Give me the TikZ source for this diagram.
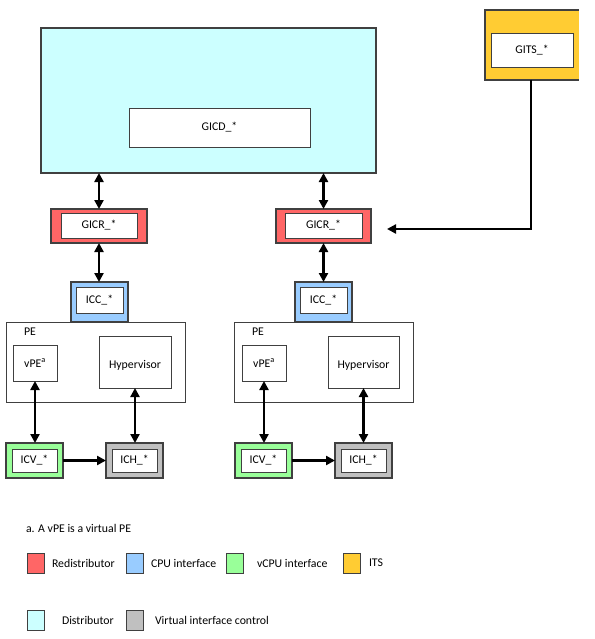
\documentclass[tikz,border=0pt]{standalone}
\usepackage{fontspec}
\setmainfont{Carlito}
\usetikzlibrary{arrows.meta,calc}
\definecolor{cred}{HTML}{FF6666}
\definecolor{cblue}{HTML}{99CCFF}
\definecolor{cgreen}{HTML}{99FF99}
\definecolor{cyel}{HTML}{FFCC33}
\definecolor{ccyan}{HTML}{CCFFFF}
\definecolor{cgray}{HTML}{C0C0C0}
\definecolor{edge}{HTML}{404040}
\tikzset{
  every node/.style={font=\fontsize{11.8}{14}\selectfont, inner sep=0pt, outer sep=0pt},
  outerbox/.style={draw=edge, line width=1.2pt, anchor=north west},
  innerbox/.style={draw=edge, line width=0.9pt, fill=white, anchor=north west},
  plainbox/.style={draw=edge, line width=0.8pt, fill=white, anchor=north west},
  legsq/.style={draw=edge, line width=1pt, anchor=north west, minimum width=17pt, minimum height=20pt},
  dbl/.style={{Triangle[length=9pt,width=9pt]}-{Triangle[length=9pt,width=9pt]}, line width=2.6pt},
  arr/.style={-{Triangle[length=9pt,width=9pt]}, line width=2.6pt},
  lbl/.style={anchor=west},
}
\begin{document}
\begin{tikzpicture}[x=1pt,y=-1pt]
\useasboundingbox (0,0) rectangle (594,639);
% Distributor
\node[outerbox, fill=ccyan, minimum width=335pt, minimum height=145pt] (dist) at (41,28) {};
\node[innerbox, minimum width=181pt, minimum height=39pt] (gicd) at (129,108) {};
\node at (gicd.center) {GICD\_*};
% ITS (right edge cut off, as in the reference)
\node[anchor=north west, fill=cyel, minimum width=94pt, minimum height=70pt] (its) at (485,10) {};
\draw[draw=edge, line width=1.2pt] (its.north east) -- (its.north west) -- (its.south west) -- (its.south east);
\node[innerbox, minimum width=82pt, minimum height=34pt] (gits) at (491,33) {};
\node at (gits.center) {GITS\_*};
% GICR
\node[outerbox, fill=cred, minimum width=96pt, minimum height=34pt] (gicrLo) at (51,209) {};
\node[innerbox, minimum width=76pt, minimum height=25pt] (gicrL) at (61,213) {};
\node at (gicrL.center) {GICR\_*};
\node[outerbox, fill=cred, minimum width=95pt, minimum height=34pt] (gicrRo) at (276,209) {};
\node[innerbox, minimum width=77pt, minimum height=25pt] (gicrR) at (285,213) {};
\node at (gicrR.center) {GICR\_*};
% ICC
\node[outerbox, fill=cblue, minimum width=57pt, minimum height=40pt] (iccLo) at (71,282) {};
\node[innerbox, minimum width=47pt, minimum height=26pt] (iccL) at (76,287) {};
\node at (iccL.center) {ICC\_*};
\node[outerbox, fill=cblue, minimum width=57pt, minimum height=40pt] (iccRo) at (295,282) {};
\node[innerbox, minimum width=47pt, minimum height=26pt] (iccR) at (300,287) {};
\node at (iccR.center) {ICC\_*};
% PE left
\node[plainbox, minimum width=179pt, minimum height=80pt] (peL) at (6,322) {};
\node[anchor=west] (peLl) at (24,332) {PE};
\node[plainbox, minimum width=44pt, minimum height=36pt] (vpeL) at (13,345) {};
\node at (vpeL.center) {vPE\textsuperscript{a}};
\node[plainbox, minimum width=72pt, minimum height=52pt] (hypL) at (99,336) {};
\node at ($(hypL.center)+(0,3)$) {Hypervisor};
% PE right
\node[plainbox, minimum width=179pt, minimum height=80pt] (peR) at (234,322) {};
\node[anchor=west] (peRl) at (252,332) {PE};
\node[plainbox, minimum width=44pt, minimum height=36pt] (vpeR) at (242,345) {};
\node at (vpeR.center) {vPE\textsuperscript{a}};
\node[plainbox, minimum width=71pt, minimum height=52pt] (hypR) at (328,336) {};
\node at ($(hypR.center)+(0,3)$) {Hypervisor};
% ICV / ICH left
\node[outerbox, fill=cgreen, minimum width=57pt, minimum height=35pt] (icvLo) at (6,443) {};
\node[innerbox, minimum width=45pt, minimum height=23pt] (icvL) at (12,449) {};
\node at (icvL.center) {ICV\_*};
\node[outerbox, fill=cgray, minimum width=57pt, minimum height=35pt] (ichLo) at (106,443) {};
\node[innerbox, minimum width=45pt, minimum height=23pt] (ichL) at (112,449) {};
\node at (ichL.center) {ICH\_*};
% ICV / ICH right
\node[outerbox, fill=cgreen, minimum width=57pt, minimum height=35pt] (icvRo) at (235,443) {};
\node[innerbox, minimum width=45pt, minimum height=23pt] (icvR) at (241,449) {};
\node at (icvR.center) {ICV\_*};
\node[outerbox, fill=cgray, minimum width=57pt, minimum height=35pt] (ichRo) at (335,443) {};
\node[innerbox, minimum width=45pt, minimum height=23pt] (ichR) at (341,449) {};
\node at (ichR.center) {ICH\_*};
% connectors
\draw[dbl] (dist.south -| gicrLo.north) -- (gicrLo.north);
\draw[dbl] (dist.south -| gicrRo.north) -- (gicrRo.north);
\draw[dbl] (gicrLo.south) -- (iccLo.north -| gicrLo.south);
\draw[dbl] (gicrRo.south) -- (iccRo.north -| gicrRo.south);
\draw[dbl] (vpeL.south) -- (vpeL.south |- icvLo.north);
\draw[dbl] (hypL.south) -- (hypL.south |- ichLo.north);
\draw[dbl] (vpeR.south) -- (vpeR.south |- icvRo.north);
\draw[dbl] (hypR.south) -- (hypR.south |- ichRo.north);
\draw[arr] (icvLo.east) -- (ichLo.west);
\draw[arr] (icvRo.east) -- (ichRo.west);
\coordinate (itsend) at (387,229);
\draw[arr] (its.south -| 531,0) |- (itsend);
% legend
\node[lbl] (foot) at (26,528) {a. A vPE is a virtual PE};
\node[legsq, fill=cred] (lr) at (27,553) {};
\node[lbl] at (52,563) {Redistributor};
\node[legsq, fill=cblue] (lb) at (126,553) {};
\node[lbl] at (151,563) {CPU interface};
\node[legsq, fill=cgreen] (lg) at (226,553) {};
\node[lbl] at (257,563) {vCPU interface};
\node[legsq, fill=cyel] (ly) at (343,553) {};
\node[lbl] at (369,563) {ITS};
\node[legsq, fill=ccyan] (lc) at (27,610) {};
\node[lbl] at (62,620) {Distributor};
\node[legsq, fill=cgray] (lgr) at (126,610) {};
\node[lbl] at (155,620) {Virtual interface control};
\end{tikzpicture}
\end{document}
